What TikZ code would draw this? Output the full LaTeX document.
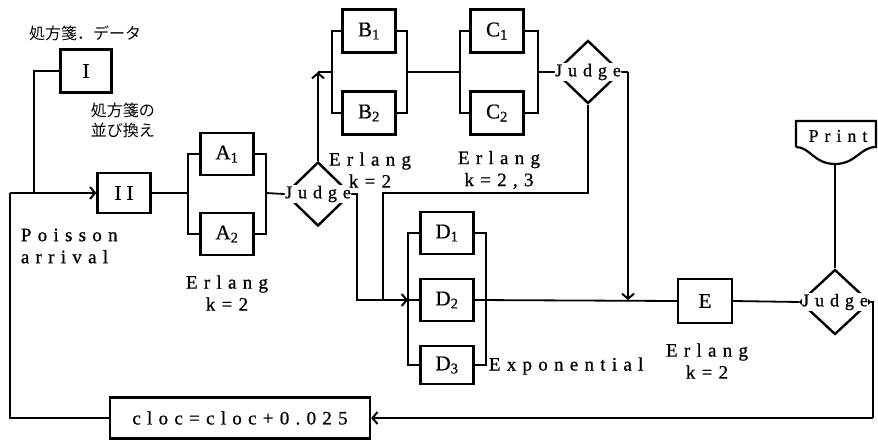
\documentclass[tikz,border=0pt]{standalone}
\usepackage{fontspec}
\setmainfont{Liberation Serif}
\newfontfamily\tw[LetterSpace=33,FakeBold=0.8]{Liberation Serif}
\newfontfamily\bx[FakeBold=0.6]{Liberation Serif}
\newfontfamily\jp{Noto Sans CJK JP}
\usetikzlibrary{shapes.geometric,arrows.meta}
\begin{document}
\begin{tikzpicture}[x=1pt,y=-1pt, line width=1.8pt,
 box/.style={draw, line width=2.4pt, minimum width=53pt, minimum height=42pt, inner sep=0pt, font=\bx\fontsize{21}{21}\selectfont},
 dia/.style={draw, diamond, line width=2.4pt, minimum width=66pt, minimum height=64pt, inner sep=0pt},
 jtext/.style={fill=white, inner sep=0.5pt, font=\tw\fontsize{18}{18}\selectfont},
 lab/.style={font=\tw\fontsize{19}{22}\selectfont, align=center, inner sep=0pt},
 jlab/.style={font=\jp\fontsize{16}{20}\selectfont, inner sep=0pt},
 arr/.style={-{Straight Barb[length=5pt,width=12pt,line width=2pt]}}
]
\useasboundingbox (0,0) rectangle (878,442);

% boxes
\node[box,minimum width=51pt,minimum height=43pt] (I) at (86,71) {I};
\node[box,minimum height=40pt] (II) at (124,193) {I\hspace{5pt}I};
\node[box] (A1) at (227,154) {A\textsubscript{1}};
\node[box] (A2) at (227,234) {A\textsubscript{2}};
\node[box,minimum height=43pt] (B1) at (369,31) {B\textsubscript{1}};
\node[box,minimum height=43pt] (B2) at (369,113) {B\textsubscript{2}};
\node[box,minimum height=43pt] (C1) at (497,31) {C\textsubscript{1}};
\node[box,minimum height=43pt] (C2) at (497,113) {C\textsubscript{2}};
\node[box] (D1) at (447,233) {D\textsubscript{1}};
\node[box] (D2) at (447,300) {D\textsubscript{2}};
\node[box,minimum height=38pt] (D3) at (447,365) {D\textsubscript{3}};
\node[box,minimum width=54pt,minimum height=44pt] (E) at (705,301) {E};
\node[box,minimum width=260pt,minimum height=41pt,font=\tw\fontsize{19}{19}\selectfont] (cloc) at (240,418) {cloc=cloc+0.025};

% diamonds
\node[dia] (J1) at (318,194) {};
\node[dia,minimum height=63pt] (J2) at (588,72) {};
\node[dia,minimum width=70pt,minimum height=65pt] (J3) at (835,302) {};

% Print shape
\draw[line width=2.2pt] (796,147) -- (796,121) -- (876,121) -- (876,147)
  .. controls (860,147) and (856,164) .. (835,164)
  .. controls (814,164) and (810,147) .. (796,147);
\coordinate (pb) at (835,164);
\node[font=\tw\fontsize{18}{18}\selectfont, inner sep=0pt] (print) at (838,136) {Print};

% coordinates
\coordinate (s1) at (34,71);
\coordinate (s2) at (34,193);
\coordinate (r1) at (10,418);
\coordinate (r2) at (10,193);
\coordinate (Al) at (188,193);
\coordinate (Ar) at (266,193);
\coordinate (Bj) at (318,72);
\coordinate (Bl) at (332,72);
\coordinate (Br) at (407,72);
\coordinate (Cl) at (460,72);
\coordinate (Cr) at (538,72);
\coordinate (m1) at (588,193);
\coordinate (m2) at (383,193);
\coordinate (m3) at (383,300);
\coordinate (n1) at (357,194);
\coordinate (n2) at (357,300);
\coordinate (Dl) at (408,300);
\coordinate (Dr) at (486,300);
\coordinate (p1) at (628,72);
\coordinate (p2) at (628,300);
\coordinate (q1) at (873,302);
\coordinate (q2) at (873,418);

% connectors
\draw (I.west) -- (s1) -- (s2);
\draw (cloc.west) -- (r1) -- (r2);
\draw[arr] (r2) -- (II.west);
\draw (II.east) -- (Al);
\draw (A1.west) -| (Al) |- (A2.west);
\draw (A1.east) -| (Ar) |- (A2.east);
\draw (Ar) -- (J1.west);
\draw[arr] (J1.north) -- (Bj);
\draw (Bj) -- (Bl);
\draw (B1.west) -| (Bl) |- (B2.west);
\draw (B1.east) -| (Br) |- (B2.east);
\draw (Br) -- (Cl);
\draw (C1.west) -| (Cl) |- (C2.west);
\draw (C1.east) -| (Cr) |- (C2.east);
\draw (Cr) -- (J2.west);
\draw (J2.south) -- (m1) -- (m2) -- (m3);
\draw (J1.east) -- (n1) -- (n2) -- (m3);
\draw[arr] (m3) -- (Dl);
\draw (D1.west) -| (Dl) |- (D3.west);
\draw (Dl) -- (D2.west);
\draw (D1.east) -| (Dr) |- (D3.east);
\draw (D2.east) -- (E.west);
\draw (J2.east) -- (p1);
\draw[arr] (p1) -- (p2);
\draw (E.east) -- (J3.west);
\draw (J3.north) -- (pb);
\draw (J3.east) -- (q1) -- (q2);
\draw[arr] (q2) -- (cloc.east);

% diamond texts
\node[jtext] (J1t) at (J1) {Judge};
\node[jtext] (J2t) at (J2) {Judge};
\node[jtext] (J3t) at (J3) {Judge};

% labels
\node[jlab] (l1) at (85,33) {処方箋．データ};
\node[jlab, align=left, anchor=west] (l2) at (90,120) {処方箋の\\並び換え};
\node[lab, align=left, anchor=west] (l3) at (20,246) {Poisson\\arrival};
\node[lab] (l4) at (227,293) {Erlang\\k=2};
\node[lab] (l5) at (370,170) {Erlang\\k=2};
\node[lab] (l6) at (499,170) {Erlang\\k=2,3};
\node[lab, anchor=west] (l7) at (488,366) {Exponential};
\node[lab] (l8) at (707,361) {Erlang\\k=2};
\end{tikzpicture}
\end{document}
